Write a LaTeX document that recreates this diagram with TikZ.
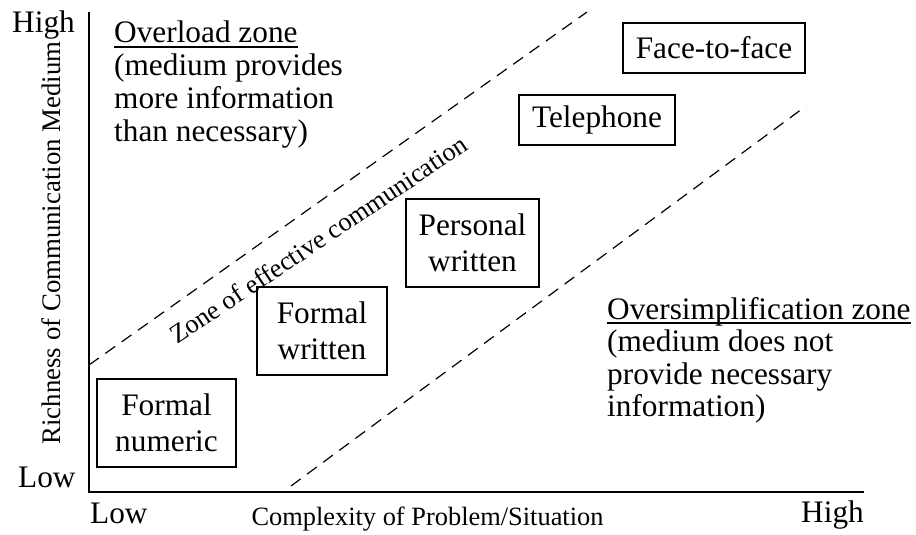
\documentclass[tikz,border=0pt]{standalone}
\usepackage{fontspec}
\setmainfont{Liberation Serif}
\begin{document}
\begin{tikzpicture}[x=1pt,y=-1pt,
  big/.style={font=\fontsize{31.3}{35}\selectfont, inner sep=0pt},
  small/.style={font=\fontsize{26.4}{30}\selectfont, inner sep=0pt},
  medbox/.style={draw, line width=1.8pt, font=\fontsize{31.3}{35.5}\selectfont, align=center, inner sep=0pt},
  axis/.style={line width=2.5pt},
  zone/.style={line width=1.2pt, dash pattern=on 12pt off 8pt},
  uline/.style={line width=1.5pt}]
\useasboundingbox (0,0) rectangle (916,535);
% axes
\coordinate (top) at (89,12);
\coordinate (origin) at (89,492);
\coordinate (right) at (864,492);
\draw[axis] (top) -- (origin) -- (right);
% axis labels
\node[big, anchor=base west] (yhigh) at (12,33) {High};
\node[big, anchor=base west] (ylow) at (18,487) {Low};
\node[big, anchor=base west] (xlow) at (90,523) {Low};
\node[big, anchor=base east] (xhigh) at (864,522) {High};
\node[small, anchor=base] (xlabel) at (427.5,525) {Complexity of Problem/Situation};
\node[font=\fontsize{26.8}{30}\selectfont, inner sep=0pt, rotate=90, anchor=base] (ylabel) at (60,243) {Richness of Communication Medium};
% zone boundaries
\coordinate (ua) at (89,365);
\coordinate (ub) at (587,12);
\coordinate (la) at (291,486);
\coordinate (lb) at (806,106);
\draw[zone] (ua) -- (ub);
\draw[zone] (la) -- (lb);
\node[small, anchor=base, rotate=33.8] (zlabel) at (323.5,247) {Zone of effective communication};
% media boxes
\node[medbox, minimum width=182pt, minimum height=50pt] (face) at (714,48) {Face-to-face};
\node[medbox, minimum width=156pt, minimum height=50pt] (tel) at (597,120) {Telephone};
\node[medbox, minimum width=133pt, minimum height=88pt] (pers) at (472.5,243) {Personal\\written};
\node[medbox, minimum width=130pt, minimum height=88pt] (fwrit) at (322,331) {Formal\\written};
\node[medbox, minimum width=139pt, minimum height=88pt] (fnum) at (166.5,423) {Formal\\numeric};
% overload zone
\node[big, anchor=base west] (ovt) at (114,43) {Overload zone};
\draw[uline] ([yshift=-4pt]ovt.base west) -- ([yshift=-4pt]ovt.base east);
\node[big, anchor=base west] (ov1) at (114,76) {(medium provides};
\node[big, anchor=base west] (ov2) at (114,109) {more information};
\node[big, anchor=base west] (ov3) at (114,141) {than necessary)};
% oversimplification zone
\node[big, anchor=base west] (ost) at (607,319) {Oversimplification zone};
\draw[uline] ([yshift=-4pt]ost.base west) -- ([yshift=-4pt]ost.base east);
\node[big, anchor=base west] (os1) at (607,351) {(medium does not};
\node[big, anchor=base west] (os2) at (607,384) {provide necessary};
\node[big, anchor=base west] (os3) at (607,416) {information)};
\end{tikzpicture}
\end{document}
